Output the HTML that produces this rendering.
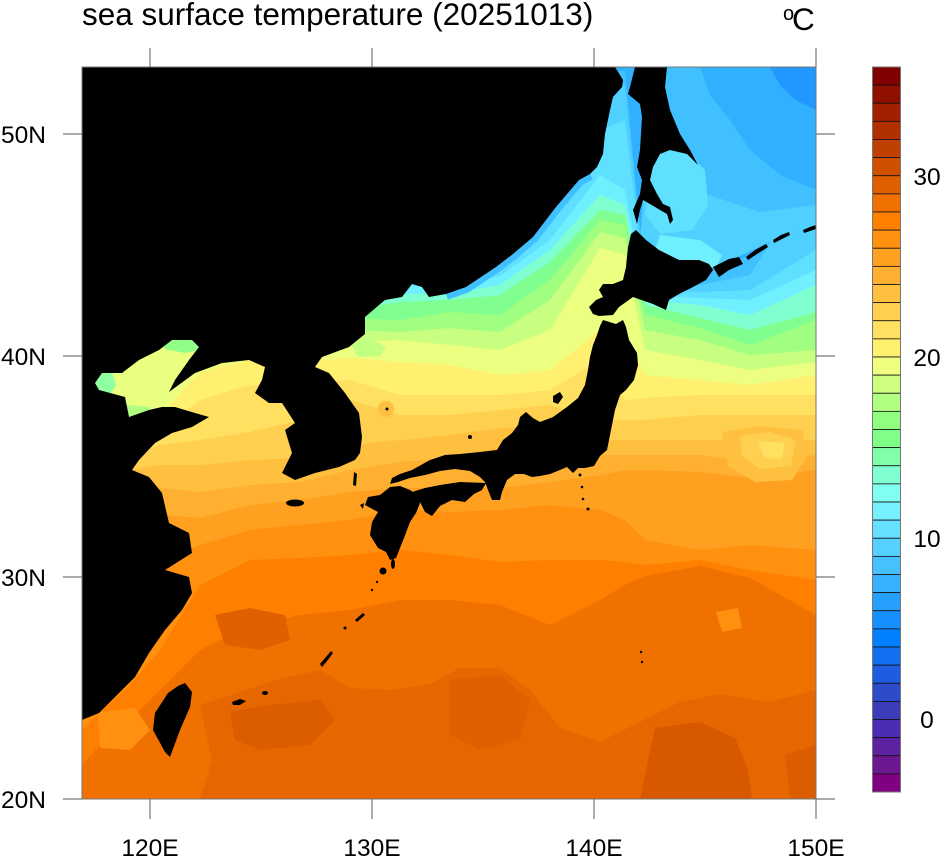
<!DOCTYPE html>
<html><head><meta charset="utf-8"><style>
html,body{margin:0;padding:0;background:#fff;}
svg{display:block;}
text{font-family:"Liberation Sans",Helvetica,Arial,sans-serif;fill:#000;}
</style></head><body>
<svg width="941" height="858" viewBox="0 0 941 858" xmlns="http://www.w3.org/2000/svg">
<defs><clipPath id="pc"><rect x="82" y="67" width="734" height="732"/></clipPath></defs>
<rect width="941" height="858" fill="#fff"/>
<g clip-path="url(#pc)">
<rect x="82" y="67" width="734" height="732" fill="#f07000"/>
<polygon fill="#ff8000" points="82,67 816,67 816,615 750,578 700,566 645,576 625,585 600,600 550,625 500,605 450,600 400,600 350,610 300,615 250,625 200,650 160,690 130,720 100,745 82,765"/>
<polygon fill="#ff9010" points="82,67 816,67 816,580 750,570 700,560 645,565 625,562 600,560 550,560 500,562 450,555 400,550 350,555 300,558 250,560 200,585 160,650 130,685 100,712 82,730"/>
<polygon fill="#ffa020" points="82,67 816,67 816,550 750,545 700,550 645,540 625,520 600,510 550,505 500,510 450,512 400,510 350,520 300,525 250,530 200,545 160,560 130,560 100,600 82,620"/>
<polygon fill="#ffb030" points="82,67 816,67 816,470 750,478 700,472 645,470 625,470 600,475 550,482 500,488 450,488 400,488 350,492 300,500 250,505 200,518 160,515 130,520 100,560 82,580"/>
<polygon fill="#ffc040" points="82,67 816,67 816,455 750,462 700,455 645,455 625,455 600,455 550,445 500,448 450,458 400,462 350,470 300,482 250,485 200,492 160,488 130,490 100,530 82,550"/>
<polygon fill="#ffd050" points="82,67 816,67 816,440 750,440 700,440 645,440 625,440 600,440 550,425 500,428 450,435 400,440 350,445 300,458 250,460 200,465 160,465 130,470 100,510 82,530"/>
<polygon fill="#ffe060" points="82,67 816,67 816,415 750,415 700,415 645,420 625,420 600,420 550,405 500,410 450,415 400,415 350,400 300,420 250,432 200,440 160,445 130,455 100,495 82,515"/>
<polygon fill="#fff070" points="82,67 816,67 816,395 750,395 700,395 645,398 625,400 600,360 550,390 500,395 450,395 400,395 350,380 300,385 250,385 200,400 160,430 130,440 100,480 82,500"/>
<polygon fill="#ecff80" points="82,67 816,67 816,375 750,385 700,380 645,375 625,340 600,330 550,370 500,375 450,365 400,362 350,358 300,362 250,360 200,372 160,415 130,425 100,465 82,485"/>
<polygon fill="#c8ff80" points="82,67 816,67 816,362 750,370 700,360 645,350 625,255 600,248 550,330 500,350 450,345 400,340 350,342 300,345 250,345 200,345 160,330 130,330 100,330 82,330"/>
<polygon fill="#a0ff80" points="82,67 816,67 816,350 750,355 700,340 645,330 625,238 600,232 550,300 500,332 450,328 400,332 350,330 300,332 250,335 200,335 160,322 130,322 100,322 82,322"/>
<polygon fill="#80ff90" points="82,67 816,67 816,320 750,345 700,328 645,315 625,225 600,220 550,280 500,315 450,312 400,320 350,318 300,320 250,320 200,320 160,315 130,315 100,315 82,315"/>
<polygon fill="#80ffd0" points="82,67 816,67 816,312 750,330 700,318 645,305 625,215 600,210 550,262 500,295 450,300 400,302 350,310 300,310 250,310 200,310 160,310 130,310 100,310 82,310"/>
<polygon fill="#70f0ff" points="82,67 816,67 816,285 750,315 700,305 645,300 625,205 600,195 550,250 500,285 450,294 400,294 350,305 300,300 250,305 200,305 160,305 130,305 100,305 82,305"/>
<polygon fill="#60e0ff" points="82,67 816,67 816,270 750,300 700,298 645,295 625,190 600,175 550,240 500,276 450,288 400,285 350,300 300,295 250,300 200,300 160,300 130,300 100,300 82,300"/>
<polygon fill="#50d0ff" points="82,67 816,67 816,250 750,290 700,292 645,290 625,120 600,130 550,225 500,270 450,284 400,280 350,295 300,290 250,295 200,295 160,295 130,295 100,295 82,295"/>
<polygon fill="#40c0ff" points="82,67 816,67 816,170 750,275 700,285 645,285 625,85 600,100 550,218 500,266 450,280 400,275 350,290 300,285 250,290 200,290 160,290 130,290 100,290 82,290"/>
<polygon fill="#30b0ff" points="82,67 816,67 816,100 750,255 700,275 645,280 625,70 600,75 550,205 500,255 450,270 400,265 350,280 300,275 250,280 200,280 160,280 130,280 100,280 82,280"/>
<!-- Okhotsk -->
<polygon fill="#40c0ff" points="655,67 816,67 816,226 790,234 760,246 730,258 716,268 700,262 680,259 660,250 640,238 645,200 650,160"/>
<polygon fill="#30b0ff" points="700,67 816,67 816,190 780,175 750,150 730,120 710,95"/>
<polygon fill="#2098ff" points="770,67 816,67 816,110 795,100 780,85"/>
<polygon fill="#50d0ff" points="645,180 700,192 760,212 816,205 816,226 790,234 760,246 716,268 660,250 640,238"/>
<polygon fill="#60e0ff" points="650,150 685,150 705,170 708,205 692,230 660,234 645,215"/>
<polygon fill="#70f0ff" points="660,235 700,240 722,255 716,268 680,260 655,250"/>
<!-- Bohai -->
<polygon fill="#e8ff80" points="88,385 100,370 125,365 140,355 160,345 170,335 206,335 200,350 190,365 180,378 172,390 163,410 150,425 120,425 92,402"/>
<polygon fill="#90ff88" points="160,335 206,335 200,350 185,353 165,349"/>
<polygon fill="#90ffa0" points="86,368 110,366 116,385 106,401 86,400"/>
<polygon fill="#b0ff80" points="118,404 150,407 152,426 116,426"/>
<!-- Japan sea extras -->
<polygon fill="#c0ff80" points="350,343 372,340 386,347 380,356 358,357"/>
<circle cx="386" cy="409" r="8" fill="#ffc040"/>
<!-- Pacific light patches -->
<polygon fill="#ffc040" points="722,432 760,426 802,430 808,455 792,480 755,482 728,466"/>
<polygon fill="#ffd050" points="740,436 770,432 796,440 791,466 760,469 742,456"/>
<polygon fill="#ffe060" points="758,441 785,443 782,458 765,459"/>
<polygon fill="#ff9010" points="716,612 738,608 742,628 722,632"/>
<polygon fill="#ff9010" points="98,712 135,708 150,730 130,750 100,748"/>
<!-- dark patches -->
<polygon fill="#e66600" points="200,705 240,692 275,680 320,670 350,688 390,690 430,684 460,668 500,668 530,690 560,728 600,742 640,722 680,702 720,694 770,702 816,690 816,800 200,800 212,760"/>
<polygon fill="#e06000" points="215,615 250,608 285,615 290,640 260,650 225,645"/>
<polygon fill="#d85800" points="655,728 700,722 735,738 748,770 752,800 640,800 648,760"/>
<polygon fill="#dc5c00" points="230,712 270,705 320,700 335,720 310,745 260,750 235,740"/>
<polygon fill="#dc5c00" points="785,755 816,745 816,800 790,800"/>
<polygon fill="#e06000" points="450,680 500,675 530,700 520,740 480,750 450,735"/>
<!-- coast blue strip -->
<polyline fill="none" stroke="#40c0ff" stroke-width="12" points="446,294 466,287 496,267 513,254 533,237 556,207 579,180 590,174"/>
<!-- LAND -->
<g fill="#000">
<polygon points="82,67 615,67 623,80 622,87 613,97 610,110 605,134 603,154 597,167 590,174 579,180 556,207 533,237 513,254 496,267 466,287 446,294 429,297 422,287 412,284 402,297 385,300 365,317 365,334 349,347 322,357 315,367 329,373 345,393 359,413 362,437 360,453 355,460 339,467 315,473 295,480 282,473 292,453 285,430 295,423 282,403 269,403 255,393 262,380 265,367 249,360 222,363 195,373 169,392 175,380 182,370 189,360 199,347 192,340 172,340 159,350 139,360 122,373 102,373 95,383 99,390 125,397 129,417 149,410 162,407 175,407 195,413 209,417 192,427 172,433 155,443 139,460 132,470 149,477 162,493 169,523 189,533 192,553 165,570 189,577 192,593 182,610 165,630 149,653 135,677 115,697 99,713 82,720"/>
<polygon points="635,67 667,67 665,87 670,110 680,134 690,150 698,165 687,154 670,150 660,154 653,167 650,180 657,194 663,204 670,207 673,220 670,224 667,214 660,210 650,204 643,200 640,210 637,224 633,210 640,194 642,180 637,167 640,150 642,117 640,104 628,94 630,87"/>
<polygon points="636,230 646,240 659,250 679,260 699,260 709,264 713,270 706,280 693,287 679,294 669,300 666,310 653,304 633,297 619,307 613,315 599,316 593,314 589,307 596,300 603,297 599,290 603,284 613,284 623,280 626,267 628,247 631,234"/>
<polygon points="713,267 729,259 739,257 743,264 729,270 719,277"/>
<polygon points="746,257 755,250 766,244 768,247 757,254 748,260"/>
<polygon points="773,240 781,235 789,232 790,235 782,239 774,243"/>
<polygon points="803,230 810,227 816,225 816,229 810,231 804,233"/>
<polygon points="603,320 616,324 623,320 626,327 629,340 637,353 638,365 634,380 626,390 620,395 615,410 612,425 609,440 607,450 600,456 594,466 585,468 578,468 573,473 567,467 560,470 550,474 540,476 532,477 524,474 515,474 507,480 502,492 500,500 492,500 488,490 485,482 480,477 470,471 455,469 440,471 425,475 410,478 398,482 390,484 392,478 400,474 412,470 430,460 445,455 460,454 480,452 497,450 503,440 512,433 518,425 520,417 526,412 533,418 540,422 553,417 567,407 578,398 585,385 588,370 590,357 593,345 597,335 600,326"/>
<polygon points="486,483 482,490 474,494 465,502 452,500 440,506 432,516 425,512 420,502 410,500 412,492 425,488 440,485 460,482"/>
<polygon points="390,487 400,486 410,490 418,496 420,503 416,513 410,522 404,538 396,558 390,560 386,552 378,548 370,535 372,522 378,512 365,505 368,497 380,495"/>
<polygon points="185,683 192,692 190,707 180,730 170,757 165,752 153,730 155,713 168,693 178,686"/>
<ellipse cx="295" cy="503" rx="9" ry="3.5"/>
<polygon points="553,396 560,392 563,397 558,404 553,402"/>
<polygon points="354,472 357,474 356,486 353,485"/>
<polygon points="360,505 364,503 363,509"/>
<ellipse cx="393" cy="564" rx="2" ry="5"/>
<circle cx="383" cy="571" r="3.5"/>
<polygon points="355,620 363,613 365,615 357,622"/>
<polygon points="320,664 326,657 331,651 333,653 327,661 322,667"/>
<ellipse cx="265" cy="693" rx="3" ry="2"/>
<polygon points="232,702 240,699 246,701 240,705 233,705"/>
<circle cx="387" cy="409" r="1.5"/>
<circle cx="345" cy="628" r="1.5"/>
<circle cx="372" cy="590" r="1.2"/>
<circle cx="377" cy="582" r="1.2"/>
<circle cx="580" cy="475" r="1.5"/>
<circle cx="582" cy="487" r="1.3"/>
<circle cx="583" cy="499" r="1.3"/>
<circle cx="588" cy="509" r="1.5"/>
<circle cx="641" cy="652" r="1.2"/>
<circle cx="642" cy="662" r="1.2"/>
<circle cx="470" cy="437" r="2"/>
</g>
</g>
<!-- frame -->
<rect x="82" y="67" width="734" height="732" fill="none" stroke="#777" stroke-width="1"/>
<!-- ticks -->
<g stroke="#777" stroke-width="1.2">
<line x1="150" y1="48" x2="150" y2="67"/><line x1="372" y1="48" x2="372" y2="67"/><line x1="594" y1="48" x2="594" y2="67"/><line x1="816" y1="48" x2="816" y2="67"/>
<line x1="150" y1="799" x2="150" y2="819"/><line x1="372" y1="799" x2="372" y2="819"/><line x1="594" y1="799" x2="594" y2="819"/><line x1="816" y1="799" x2="816" y2="819"/>
<line x1="63" y1="134" x2="82" y2="134"/><line x1="63" y1="356" x2="82" y2="356"/><line x1="63" y1="577" x2="82" y2="577"/><line x1="63" y1="799" x2="82" y2="799"/>
<line x1="816" y1="134" x2="835" y2="134"/><line x1="816" y1="356" x2="835" y2="356"/><line x1="816" y1="577" x2="835" y2="577"/><line x1="816" y1="799" x2="835" y2="799"/>
</g>
<!-- labels -->
<text x="82" y="25" font-size="31.5">sea surface temperature (20251013)</text>
<text x="783" y="20" font-size="20">o</text>
<text x="792" y="30" font-size="31.5">C</text>
<g font-size="24.5" text-anchor="end">
<text x="46" y="143">50N</text><text x="46" y="365">40N</text><text x="46" y="586">30N</text><text x="46" y="808">20N</text>
</g>
<g font-size="24.5" text-anchor="middle">
<text x="150" y="856">120E</text><text x="372" y="856">130E</text><text x="594" y="856">140E</text><text x="816" y="856">150E</text>
<text x="927" y="185">30</text><text x="927" y="366">20</text><text x="927" y="547">10</text><text x="927" y="728">0</text>
</g>
<!-- colorbar -->
<g stroke="#111" stroke-width="0.8">
<rect x="872.5" y="67" width="28" height="18.125" fill="#800000"/>
<rect x="872.5" y="85.125" width="28" height="18.125" fill="#901000"/>
<rect x="872.5" y="103.25" width="28" height="18.125" fill="#a02000"/>
<rect x="872.5" y="121.375" width="28" height="18.125" fill="#b03000"/>
<rect x="872.5" y="139.5" width="28" height="18.125" fill="#c04000"/>
<rect x="872.5" y="157.625" width="28" height="18.125" fill="#d05000"/>
<rect x="872.5" y="175.75" width="28" height="18.125" fill="#e06000"/>
<rect x="872.5" y="193.875" width="28" height="18.125" fill="#f07000"/>
<rect x="872.5" y="212" width="28" height="18.125" fill="#ff8000"/>
<rect x="872.5" y="230.125" width="28" height="18.125" fill="#ff9010"/>
<rect x="872.5" y="248.25" width="28" height="18.125" fill="#ffa020"/>
<rect x="872.5" y="266.375" width="28" height="18.125" fill="#ffb030"/>
<rect x="872.5" y="284.5" width="28" height="18.125" fill="#ffc040"/>
<rect x="872.5" y="302.625" width="28" height="18.125" fill="#ffd050"/>
<rect x="872.5" y="320.75" width="28" height="18.125" fill="#ffe060"/>
<rect x="872.5" y="338.875" width="28" height="18.125" fill="#fff070"/>
<rect x="872.5" y="357" width="28" height="18.125" fill="#f0ff80"/>
<rect x="872.5" y="375.125" width="28" height="18.125" fill="#d0ff80"/>
<rect x="872.5" y="393.25" width="28" height="18.125" fill="#b0ff80"/>
<rect x="872.5" y="411.375" width="28" height="18.125" fill="#90ff80"/>
<rect x="872.5" y="429.5" width="28" height="18.125" fill="#80ff88"/>
<rect x="872.5" y="447.625" width="28" height="18.125" fill="#80ffa8"/>
<rect x="872.5" y="465.75" width="28" height="18.125" fill="#80ffd0"/>
<rect x="872.5" y="483.875" width="28" height="18.125" fill="#80fff0"/>
<rect x="872.5" y="502" width="28" height="18.125" fill="#76f0ff"/>
<rect x="872.5" y="520.125" width="28" height="18.125" fill="#66e0ff"/>
<rect x="872.5" y="538.25" width="28" height="18.125" fill="#56d0ff"/>
<rect x="872.5" y="556.375" width="28" height="18.125" fill="#46c0ff"/>
<rect x="872.5" y="574.5" width="28" height="18.125" fill="#36b0ff"/>
<rect x="872.5" y="592.625" width="28" height="18.125" fill="#26a0ff"/>
<rect x="872.5" y="610.75" width="28" height="18.125" fill="#1490ff"/>
<rect x="872.5" y="628.875" width="28" height="18.125" fill="#0080ff"/>
<rect x="872.5" y="647" width="28" height="18.125" fill="#1270f0"/>
<rect x="872.5" y="665.125" width="28" height="18.125" fill="#1e5ce0"/>
<rect x="872.5" y="683.25" width="28" height="18.125" fill="#2c4ccc"/>
<rect x="872.5" y="701.375" width="28" height="18.125" fill="#3c3cb8"/>
<rect x="872.5" y="719.5" width="28" height="18.125" fill="#4c2cb0"/>
<rect x="872.5" y="737.625" width="28" height="18.125" fill="#5c22a0"/>
<rect x="872.5" y="755.75" width="28" height="18.125" fill="#6b1890"/>
<rect x="872.5" y="773.875" width="28" height="18.125" fill="#800080"/>
</g>
<rect x="872.5" y="67" width="28" height="725" fill="none" stroke="#777" stroke-width="1"/>
</svg>
</body></html>
